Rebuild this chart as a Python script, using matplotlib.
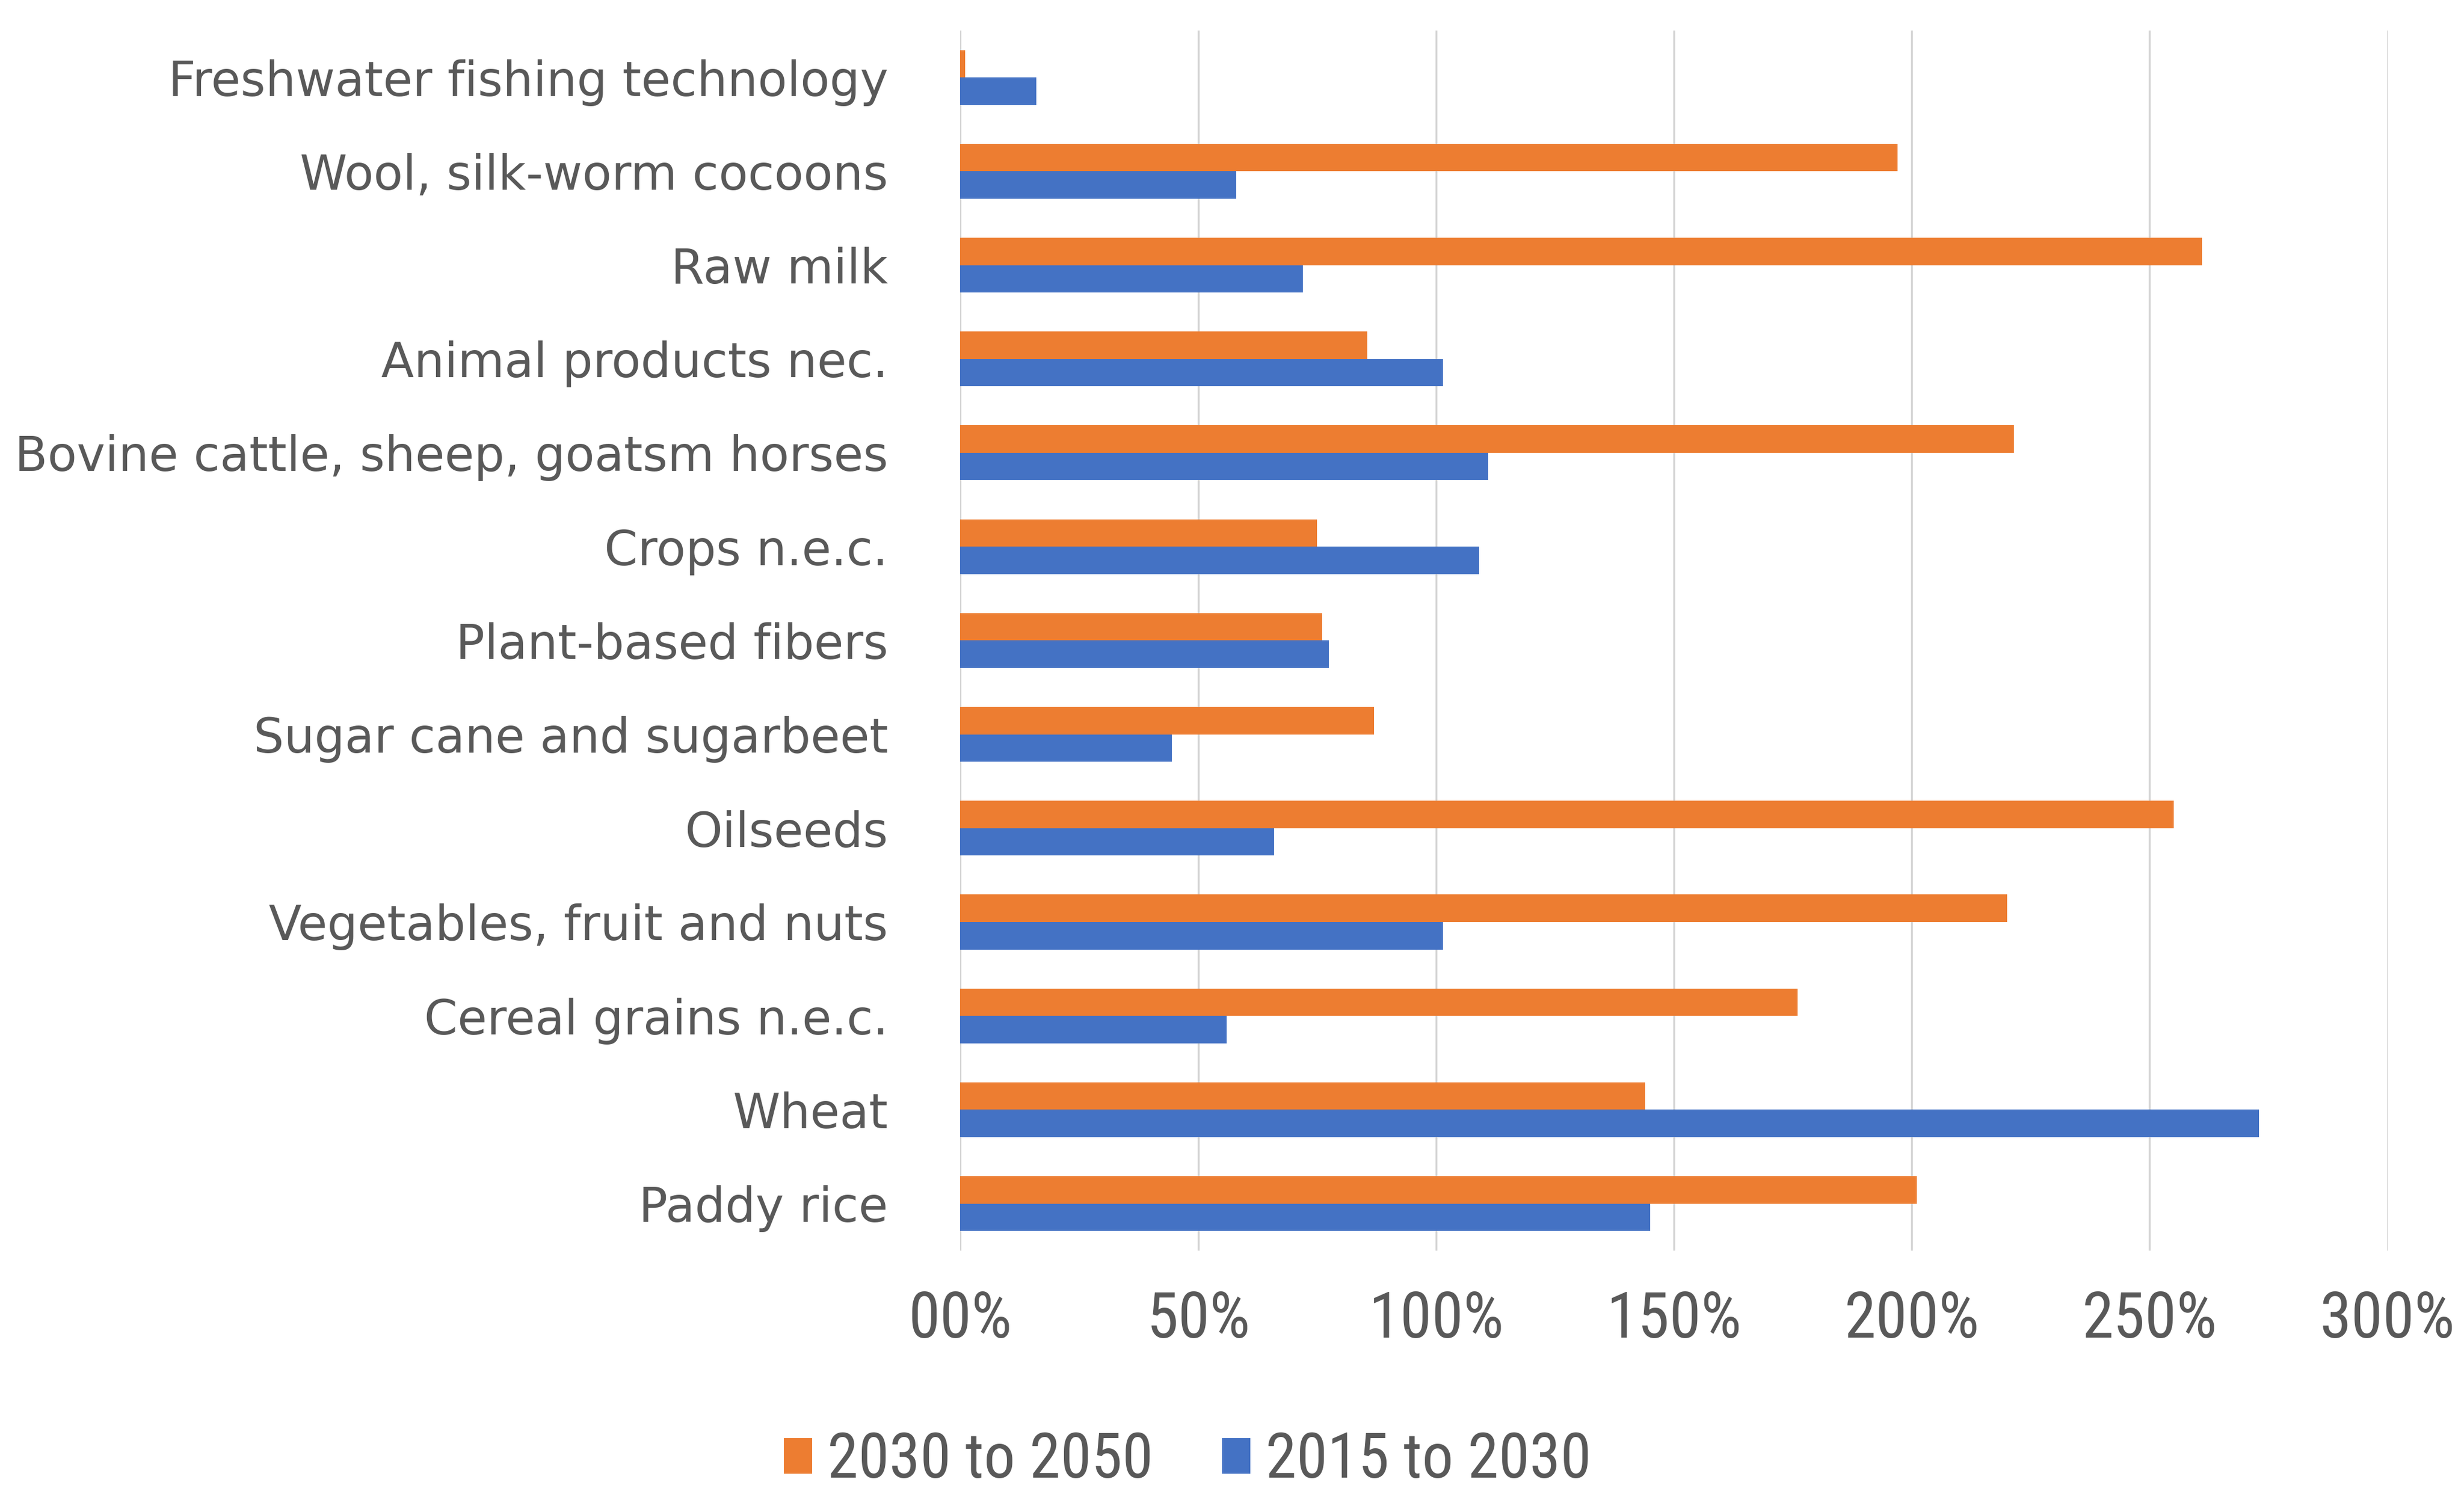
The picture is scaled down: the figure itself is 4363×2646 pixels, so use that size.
import matplotlib
matplotlib.use("Agg")
import matplotlib.pyplot as plt
from matplotlib import font_manager
from matplotlib.font_manager import FontProperties
from matplotlib.textpath import TextPath
import numpy as np
from matplotlib.ticker import FixedLocator

categories = [
    "Paddy rice",
    "Wheat",
    "Cereal grains n.e.c.",
    "Vegetables, fruit and nuts",
    "Oilseeds",
    "Sugar cane and sugarbeet",
    "Plant-based fibers",
    "Crops n.e.c.",
    "Bovine cattle, sheep, goatsm horses",
    "Animal products nec.",
    "Raw milk",
    "Wool, silk-worm cocoons",
    "Freshwater fishing technology",
]
s2030_2050 = [201, 144, 176, 220, 255, 87, 76, 75, 221.5, 85.5, 261, 197, 1]
s2015_2030 = [145, 273, 56, 101.5, 66, 44.5, 77.5, 109, 111, 101.5, 72, 58, 16]
series_names = ["2030 to 2050", "2015 to 2030"]
xticks = [0, 50, 100, 150, 200, 250, 300]
xticklabels = ["00%", "50%", "100%", "150%", "200%", "250%", "300%"]

ORANGE = "#ED7D31"
BLUE = "#4472C4"
TXT = "#595959"

installed = {f.name for f in font_manager.fontManager.ttflist}
cond_candidates = ["Liberation Sans Narrow", "DejaVu Sans Condensed",
                   "Roboto Condensed", "Open Sans Condensed", "Noto Sans Condensed"]
narrow_fam = next((c for c in cond_candidates if c in installed), None)
fam = [narrow_fam, "DejaVu Sans"] if narrow_fam else ["DejaVu Sans"]

DPI = 100

def size_for_width(text, target_px):
    fp = FontProperties(family=fam, size=100)
    w = TextPath((0, 0), text, prop=fp).get_extents().width  # in points at size 100
    w_px = w * DPI / 72.0
    return 100 * target_px / w_px

s_tick = min(size_for_width(xticklabels[-1], 229), 82)
s_leg = min(size_for_width(series_names[1], 565), 88)

fig = plt.figure(figsize=(43.63, 26.46), dpi=DPI)
ax = fig.add_axes([0.3897, 0.163, 0.969 - 0.3897, 0.9796 - 0.163])

y = np.arange(len(categories))
h = 0.292
b1 = ax.barh(y + h / 2, s2030_2050, height=h, color=ORANGE, label=series_names[0], zorder=3)
b2 = ax.barh(y - h / 2, s2015_2030, height=h, color=BLUE, label=series_names[1], zorder=3)

ax.set_xlim(0, 300)
ax.set_ylim(-0.5, 12.5)
ax.xaxis.set_major_locator(FixedLocator(xticks))
ax.set_xticklabels(xticklabels, family=fam, fontsize=s_tick, color=TXT)
ax.set_yticks(y)
ax.set_yticklabels(categories, family="DejaVu Sans", fontsize=61, color=TXT)
ax.tick_params(axis="x", length=0, pad=50)
ax.tick_params(axis="y", length=0, pad=92)
ax.grid(axis="x", color="#D4D4D4", linewidth=2.5, zorder=0)
for s in ax.spines.values():
    s.set_visible(False)

fig.legend(handles=[b1, b2], labels=series_names, loc="center",
           bbox_to_anchor=(0.482, 0.0223), ncol=2, frameon=False,
           prop={"family": fam, "size": s_leg}, labelcolor=TXT,
           handlelength=0.45, handleheight=0.5, handletextpad=0.25,
           columnspacing=1.1, borderpad=0)

fig.savefig("out.png", dpi=DPI, facecolor="white")
